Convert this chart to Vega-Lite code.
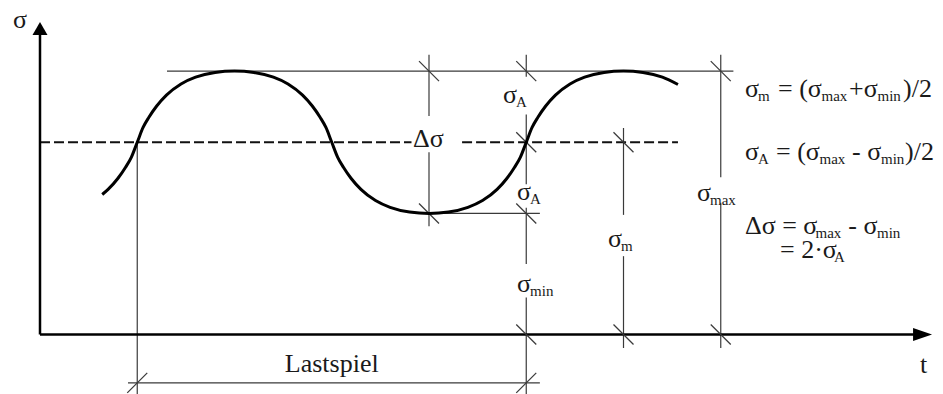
{
  "$schema": "https://vega.github.io/schema/vega-lite/v6.json",
  "width": 943,
  "height": 394,
  "autosize": {"type": "none"},
  "padding": 0,
  "background": "white",
  "config": {"view": {"stroke": null}},
  "datasets": {
    "curve": [
      {"t": 0.64, "s": 1.966}, {"t": 0.7, "s": 2.038}, {"t": 0.8, "s": 2.191}, {"t": 0.88, "s": 2.349}, {"t": 0.94, "s": 2.492}, {"t": 1.0, "s": 2.7},
      {"t": 1.06, "s": 2.908}, {"t": 1.12, "s": 3.051}, {"t": 1.2, "s": 3.209}, {"t": 1.3, "s": 3.362}, {"t": 1.45, "s": 3.519}, {"t": 1.6, "s": 3.614}, {"t": 1.8, "s": 3.68}, {"t": 2.0, "s": 3.7},
      {"t": 2.2, "s": 3.68}, {"t": 2.4, "s": 3.614}, {"t": 2.55, "s": 3.519}, {"t": 2.7, "s": 3.362}, {"t": 2.8, "s": 3.209}, {"t": 2.88, "s": 3.051}, {"t": 2.94, "s": 2.908}, {"t": 3.0, "s": 2.7},
      {"t": 3.06, "s": 2.492}, {"t": 3.12, "s": 2.349}, {"t": 3.2, "s": 2.191}, {"t": 3.3, "s": 2.038}, {"t": 3.45, "s": 1.881}, {"t": 3.6, "s": 1.786}, {"t": 3.8, "s": 1.72}, {"t": 4.0, "s": 1.7},
      {"t": 4.2, "s": 1.72}, {"t": 4.4, "s": 1.786}, {"t": 4.55, "s": 1.881}, {"t": 4.7, "s": 2.038}, {"t": 4.8, "s": 2.191}, {"t": 4.88, "s": 2.349}, {"t": 4.94, "s": 2.492}, {"t": 5.0, "s": 2.7},
      {"t": 5.06, "s": 2.908}, {"t": 5.12, "s": 3.051}, {"t": 5.2, "s": 3.209}, {"t": 5.3, "s": 3.362}, {"t": 5.45, "s": 3.519}, {"t": 5.6, "s": 3.614}, {"t": 5.8, "s": 3.68}, {"t": 6.0, "s": 3.7},
      {"t": 6.2, "s": 3.68}, {"t": 6.4, "s": 3.614}, {"t": 6.56, "s": 3.511}
    ],
    "segments": [
      {"kind": "axis", "t1": 0, "s1": 0, "t2": 9.0, "s2": 0},
      {"kind": "axis", "t1": 0, "s1": 0, "t2": 0, "s2": 4.277},
      {"kind": "mean", "t1": 0, "s1": 2.7, "t2": 3.82, "s2": 2.7},
      {"kind": "mean", "t1": 4.34, "s1": 2.7, "t2": 6.56, "s2": 2.7},
      {"kind": "dim", "t1": 1.306, "s1": 3.7, "t2": 7.13, "s2": 3.7},
      {"kind": "dim", "t1": 4.0, "s1": 1.7, "t2": 5.14, "s2": 1.7},
      {"kind": "dim", "t1": 0.905, "s1": -0.68, "t2": 5.14, "s2": -0.68},
      {"kind": "dim", "t1": 1, "s1": 2.7, "t2": 1, "s2": -0.84},
      {"kind": "dim", "t1": 4, "s1": 3.93, "t2": 4, "s2": 3.07},
      {"kind": "dim", "t1": 4, "s1": 2.56, "t2": 4, "s2": 1.52},
      {"kind": "dim", "t1": 5, "s1": 3.93, "t2": 5, "s2": 3.62},
      {"kind": "dim", "t1": 5, "s1": 3.09, "t2": 5, "s2": 2.11},
      {"kind": "dim", "t1": 5, "s1": 1.78, "t2": 5, "s2": 0.99},
      {"kind": "dim", "t1": 5, "s1": 0.52, "t2": 5, "s2": -0.84},
      {"kind": "dim", "t1": 6, "s1": 2.9, "t2": 6, "s2": 1.68},
      {"kind": "dim", "t1": 6, "s1": 1.1, "t2": 6, "s2": -0.19},
      {"kind": "dim", "t1": 7, "s1": 3.93, "t2": 7, "s2": 2.21},
      {"kind": "dim", "t1": 7, "s1": 1.85, "t2": 7, "s2": -0.19}
    ],
    "ticks": [
      {"t": 4, "s": 3.7, "dir": "back"}, {"t": 5, "s": 3.7, "dir": "back"}, {"t": 7, "s": 3.7, "dir": "back"},
      {"t": 5, "s": 2.7, "dir": "back"}, {"t": 6, "s": 2.7, "dir": "back"},
      {"t": 4, "s": 1.7, "dir": "back"}, {"t": 5, "s": 1.7, "dir": "back"},
      {"t": 5, "s": 0, "dir": "back"}, {"t": 6, "s": 0, "dir": "back"}, {"t": 7, "s": 0, "dir": "back"},
      {"t": 1, "s": -0.68, "dir": "fwd"}, {"t": 5, "s": -0.68, "dir": "fwd"}
    ],
    "arrows": [
      {"axis": "sigma", "t": 0, "s": 4.298},
      {"axis": "time", "t": 9.075, "s": 0}
    ],
    "texts": [
      {"kind": "main", "t": 7.249, "s": 3.336, "txt": "σ"},
      {"kind": "sub", "t": 7.383, "s": 3.279, "txt": "m"},
      {"kind": "main", "t": 7.589, "s": 3.336, "txt": "= (σ"},
      {"kind": "sub", "t": 8.036, "s": 3.279, "txt": "max"},
      {"kind": "main", "t": 8.319, "s": 3.336, "txt": "+σ"},
      {"kind": "sub", "t": 8.612, "s": 3.279, "txt": "min"},
      {"kind": "main", "t": 8.874, "s": 3.336, "txt": ")/2"},
      {"kind": "main", "t": 7.249, "s": 2.451, "txt": "σ"},
      {"kind": "sub", "t": 7.383, "s": 2.395, "txt": "A"},
      {"kind": "main", "t": 7.568, "s": 2.451, "txt": "= (σ"},
      {"kind": "sub", "t": 8.015, "s": 2.395, "txt": "max"},
      {"kind": "main", "t": 8.35, "s": 2.451, "txt": "- σ"},
      {"kind": "sub", "t": 8.648, "s": 2.395, "txt": "min"},
      {"kind": "main", "t": 8.895, "s": 2.451, "txt": ")/2"},
      {"kind": "main", "t": 7.249, "s": 1.412, "txt": "Δσ = σ"},
      {"kind": "sub", "t": 7.974, "s": 1.355, "txt": "max"},
      {"kind": "main", "t": 8.311, "s": 1.412, "txt": "- σ"},
      {"kind": "sub", "t": 8.607, "s": 1.355, "txt": "min"},
      {"kind": "main", "t": 7.609, "s": 1.074, "txt": "= 2·σ"},
      {"kind": "sub", "t": 8.164, "s": 1.018, "txt": "A"},
      {"kind": "main", "t": 4.761, "s": 3.251, "txt": "σ"},
      {"kind": "sub", "t": 4.895, "s": 3.195, "txt": "A"},
      {"kind": "main", "t": 4.905, "s": 1.889, "txt": "σ"},
      {"kind": "sub", "t": 5.039, "s": 1.833, "txt": "A"},
      {"kind": "main", "t": 4.905, "s": 0.597, "txt": "σ"},
      {"kind": "sub", "t": 5.039, "s": 0.541, "txt": "min"},
      {"kind": "main", "t": 5.841, "s": 1.229, "txt": "σ"},
      {"kind": "sub", "t": 5.974, "s": 1.173, "txt": "m"},
      {"kind": "main", "t": 6.756, "s": 1.875, "txt": "σ"},
      {"kind": "sub", "t": 6.889, "s": 1.819, "txt": "max"},
      {"kind": "main", "t": 3.835, "s": 2.633, "txt": "Δσ"},
      {"kind": "axis", "t": -0.278, "s": 4.305, "txt": "σ"},
      {"kind": "axis", "t": 9.049, "s": -0.541, "txt": "t"}
    ],
    "captions": [
      {"t": 3.0, "s": -0.527, "txt": "Lastspiel"}
    ]
  },
  "layer": [
    {
      "data": {"name": "segments"},
      "transform": [{"filter": "datum.kind === 'dim'"}],
      "mark": {"type": "rule", "color": "#3a3a3a", "strokeWidth": 1.2},
      "encoding": {
        "x": {"field": "t1", "type": "quantitative", "scale": {"domain": [-0.4113, 9.2853], "nice": false, "zero": false}, "axis": null},
        "x2": {"field": "t2"},
        "y": {"field": "s1", "type": "quantitative", "scale": {"domain": [-0.8357, 4.698], "nice": false, "zero": false}, "axis": null},
        "y2": {"field": "s2"}
      }
    },
    {
      "data": {"name": "segments"},
      "transform": [{"filter": "datum.kind === 'mean'"}],
      "mark": {"type": "rule", "color": "#111111", "strokeWidth": 2.2, "strokeDash": [10, 4]},
      "encoding": {
        "x": {"field": "t1", "type": "quantitative", "scale": {"domain": [-0.4113, 9.2853], "nice": false, "zero": false}, "axis": null},
        "x2": {"field": "t2"},
        "y": {"field": "s1", "type": "quantitative", "scale": {"domain": [-0.8357, 4.698], "nice": false, "zero": false}, "axis": null},
        "y2": {"field": "s2"}
      }
    },
    {
      "data": {"name": "segments"},
      "transform": [{"filter": "datum.kind === 'axis'"}],
      "mark": {"type": "rule", "color": "#000000", "strokeWidth": 2.5},
      "encoding": {
        "x": {"field": "t1", "type": "quantitative", "scale": {"domain": [-0.4113, 9.2853], "nice": false, "zero": false}, "axis": null},
        "x2": {"field": "t2"},
        "y": {"field": "s1", "type": "quantitative", "scale": {"domain": [-0.8357, 4.698], "nice": false, "zero": false}, "axis": null},
        "y2": {"field": "s2"}
      }
    },
    {
      "data": {"name": "ticks"},
      "transform": [{"filter": "datum.dir === 'back'"}],
      "mark": {"type": "point", "shape": "M-1,-1L1,1", "size": 400, "filled": false, "opacity": 1, "color": "#3a3a3a", "strokeWidth": 1.2},
      "encoding": {
        "x": {"field": "t", "type": "quantitative", "scale": {"domain": [-0.4113, 9.2853], "nice": false, "zero": false}, "axis": null},
        "y": {"field": "s", "type": "quantitative", "scale": {"domain": [-0.8357, 4.698], "nice": false, "zero": false}, "axis": null}
      }
    },
    {
      "data": {"name": "ticks"},
      "transform": [{"filter": "datum.dir === 'fwd'"}],
      "mark": {"type": "point", "shape": "M-1,1L1,-1", "size": 400, "filled": false, "opacity": 1, "color": "#3a3a3a", "strokeWidth": 1.2},
      "encoding": {
        "x": {"field": "t", "type": "quantitative", "scale": {"domain": [-0.4113, 9.2853], "nice": false, "zero": false}, "axis": null},
        "y": {"field": "s", "type": "quantitative", "scale": {"domain": [-0.8357, 4.698], "nice": false, "zero": false}, "axis": null}
      }
    },
    {
      "data": {"name": "arrows"},
      "transform": [{"filter": "datum.axis === 'sigma'"}],
      "mark": {"type": "point", "shape": "M0,-0.87L1,0.87L-1,0.87Z", "size": 225, "filled": true, "opacity": 1, "color": "#000000"},
      "encoding": {
        "x": {"field": "t", "type": "quantitative", "scale": {"domain": [-0.4113, 9.2853], "nice": false, "zero": false}, "axis": null},
        "y": {"field": "s", "type": "quantitative", "scale": {"domain": [-0.8357, 4.698], "nice": false, "zero": false}, "axis": null}
      }
    },
    {
      "data": {"name": "arrows"},
      "transform": [{"filter": "datum.axis === 'time'"}],
      "mark": {"type": "point", "shape": "M1,0L-1,-0.68L-1,0.68Z", "size": 361, "filled": true, "opacity": 1, "color": "#000000"},
      "encoding": {
        "x": {"field": "t", "type": "quantitative", "scale": {"domain": [-0.4113, 9.2853], "nice": false, "zero": false}, "axis": null},
        "y": {"field": "s", "type": "quantitative", "scale": {"domain": [-0.8357, 4.698], "nice": false, "zero": false}, "axis": null}
      }
    },
    {
      "data": {"name": "curve"},
      "mark": {"type": "line", "color": "#000000", "strokeWidth": 3, "interpolate": "monotone"},
      "encoding": {
        "x": {"field": "t", "type": "quantitative", "scale": {"domain": [-0.4113, 9.2853], "nice": false, "zero": false}, "axis": null},
        "y": {"field": "s", "type": "quantitative", "scale": {"domain": [-0.8357, 4.698], "nice": false, "zero": false}, "axis": null}
      }
    },
    {
      "data": {"name": "texts"},
      "transform": [{"filter": "datum.kind === 'main'"}],
      "mark": {"type": "text", "align": "left", "baseline": "alphabetic", "font": "Liberation Serif", "fontSize": 26, "color": "#1a1a1a"},
      "encoding": {
        "x": {"field": "t", "type": "quantitative", "scale": {"domain": [-0.4113, 9.2853], "nice": false, "zero": false}, "axis": null},
        "y": {"field": "s", "type": "quantitative", "scale": {"domain": [-0.8357, 4.698], "nice": false, "zero": false}, "axis": null},
        "text": {"field": "txt"}
      }
    },
    {
      "data": {"name": "texts"},
      "transform": [{"filter": "datum.kind === 'sub'"}],
      "mark": {"type": "text", "align": "left", "baseline": "alphabetic", "font": "Liberation Serif", "fontSize": 15, "color": "#1a1a1a"},
      "encoding": {
        "x": {"field": "t", "type": "quantitative", "scale": {"domain": [-0.4113, 9.2853], "nice": false, "zero": false}, "axis": null},
        "y": {"field": "s", "type": "quantitative", "scale": {"domain": [-0.8357, 4.698], "nice": false, "zero": false}, "axis": null},
        "text": {"field": "txt"}
      }
    },
    {
      "data": {"name": "texts"},
      "transform": [{"filter": "datum.kind === 'axis'"}],
      "mark": {"type": "text", "align": "left", "baseline": "alphabetic", "font": "Liberation Serif", "fontSize": 26, "color": "#1a1a1a"},
      "encoding": {
        "x": {"field": "t", "type": "quantitative", "scale": {"domain": [-0.4113, 9.2853], "nice": false, "zero": false}, "axis": null},
        "y": {"field": "s", "type": "quantitative", "scale": {"domain": [-0.8357, 4.698], "nice": false, "zero": false}, "axis": null},
        "text": {"field": "txt"}
      }
    },
    {
      "data": {"name": "captions"},
      "mark": {"type": "text", "align": "center", "baseline": "alphabetic", "font": "Liberation Serif", "fontSize": 26, "color": "#1a1a1a"},
      "encoding": {
        "x": {"field": "t", "type": "quantitative", "scale": {"domain": [-0.4113, 9.2853], "nice": false, "zero": false}, "axis": null},
        "y": {"field": "s", "type": "quantitative", "scale": {"domain": [-0.8357, 4.698], "nice": false, "zero": false}, "axis": null},
        "text": {"field": "txt"}
      }
    }
  ]
}
